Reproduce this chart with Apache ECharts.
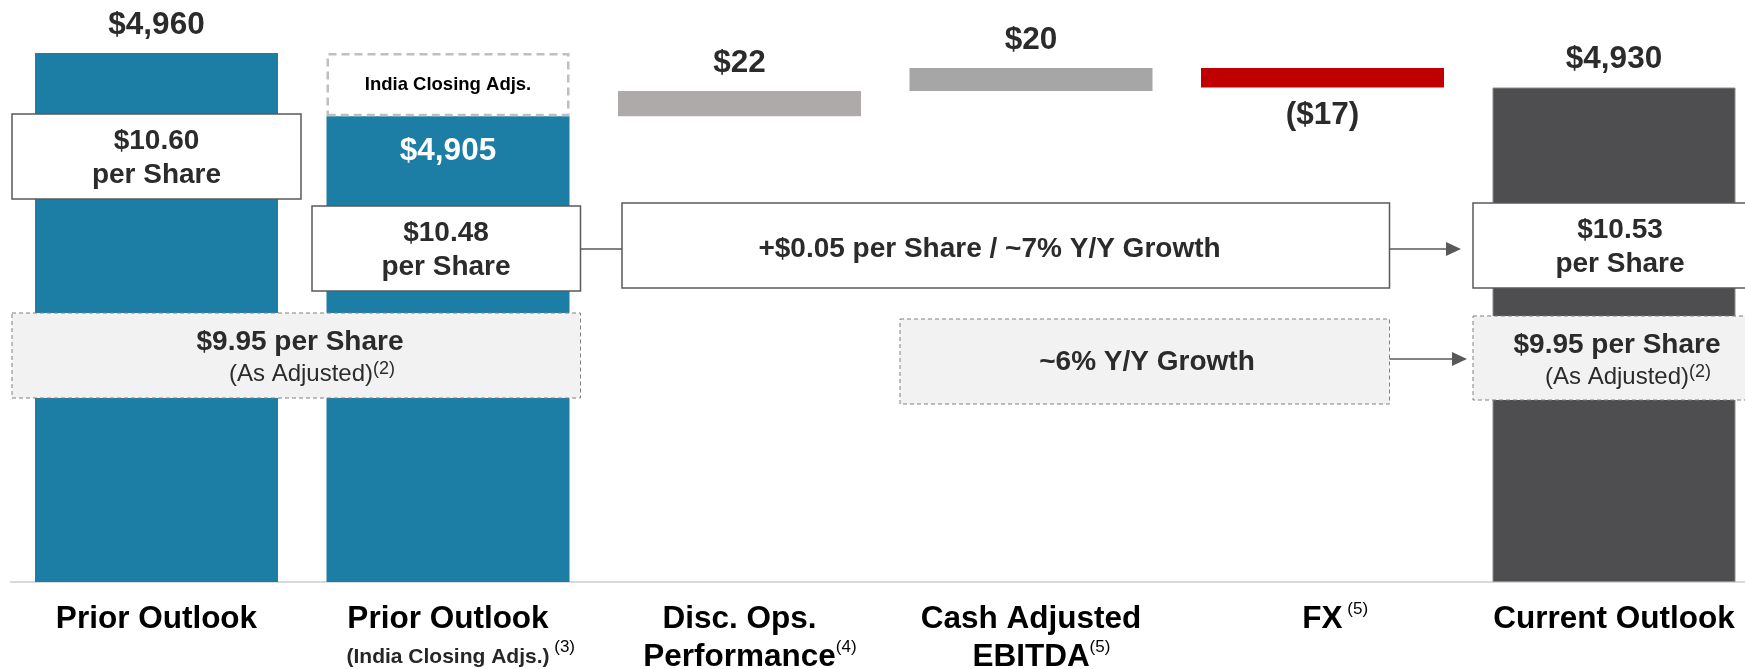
<!DOCTYPE html>
<html>
<head>
<meta charset="utf-8">
<title>Outlook bridge</title>
<script src="https://cdn.jsdelivr.net/npm/echarts@6/dist/echarts.min.js"></script>
<style>
  html, body { margin: 0; padding: 0; background: #fff; }
  #container { width: 1745px; height: 669px; }
</style>
</head>
<body>
<div id="container"></div>
<script>
// bridge steps (x axis)
var categories = ['Prior Outlook', 'Prior Outlook', 'Disc. Ops.\nPerformance', 'Cash Adjusted\nEBITDA', 'FX', 'Current Outlook'];
var subLabels = ['', '(India Closing Adjs.)', '', '', '', ''];
var footnotes = ['', ' (3)', '(4)', '(5)', ' (5)', ''];
// outlook totals ($M)
var outlookTotals = [4960, 4905, null, null, null, 4930];
// bridge movements ($M)
var bridgeChanges = [null, null, 22, 20, -17, null];
// per share call-outs
var perShare = ['$10.60', '$10.48', '$10.53'];
var adjustedPerShare = '$9.95';
var growthNotes = ['+$0.05 per Share / ~7% Y/Y Growth', '~6% Y/Y Growth'];
var yMin = 4500, yMax = 5000;

var font = 'Liberation Sans, Arial, Helvetica, sans-serif';
var stepColors = ['#1c7da5', '#1c7da5', '#aeaaaa', '#a6a6a6', '#c00000', '#4e4e50'];

function money(v) {
  var s = '$' + Math.abs(v).toLocaleString('en-US');
  return v < 0 ? '(' + s + ')' : s;
}

var baseData = [], totalData = [], stepData = [], adjData = [];
var running = outlookTotals[1];
for (var i = 0; i < categories.length; i++) {
  if (outlookTotals[i] != null) {
    baseData.push(yMin);
    var lbl = { show: true, position: 'top', distance: 12, formatter: money(outlookTotals[i]) };
    if (i == 1) { lbl = { show: true, position: 'insideTop', distance: 19, color: '#fff', formatter: money(outlookTotals[i]) }; }
    var st = { color: stepColors[i] };
    if (i == 5) { st.borderColor = '#8a8a8a'; st.borderWidth = 1; }
    totalData.push({ value: outlookTotals[i] - yMin, itemStyle: st, label: lbl });
    stepData.push(null);
  } else {
    var c = bridgeChanges[i];
    if (c >= 0) { baseData.push(running); running += c; }
    else { running += c; baseData.push(running); }
    totalData.push(null);
    stepData.push({
      value: Math.abs(c),
      itemStyle: { color: stepColors[i] },
      label: { show: true, position: c < 0 ? 'bottom' : 'top', distance: 12, formatter: money(c) }
    });
  }
  // India closing adjustment sits between the two prior outlook totals
  adjData.push(i == 1 ? outlookTotals[0] - outlookTotals[1] : null);
}

var dom = document.getElementById('container');
var myChart = echarts.init(dom);

function box(x, y, w, h, dashed) {
  return {
    type: 'rect', z: 100, shape: { x: x, y: y, width: w, height: h },
    style: dashed ? { fill: '#f2f2f2', stroke: '#808080', lineWidth: 1, lineDash: [4, 3] }
                  : { fill: '#fff', stroke: '#595959', lineWidth: 1.5 }
  };
}
function txt(x, y, text, size, weight) {
  return {
    type: 'text', z: 101, x: x, y: y,
    style: {
      text: text, fill: '#2b2b2b', fontSize: size || 28, fontWeight: weight || 'bold', fontFamily: font,
      lineHeight: 34, align: 'center', verticalAlign: 'middle', textAlign: 'center', textVerticalAlign: 'middle',
      rich: {
        n: { fontSize: 24, fontWeight: 'normal', fontFamily: font, color: '#333', lineHeight: 28 },
        s: { fontSize: 18, fontWeight: 'normal', fontFamily: font, color: '#333', lineHeight: 14, verticalAlign: 'top' }
      }
    }
  };
}
function line(x1, y1, x2, y2) {
  return { type: 'line', z: 100, shape: { x1: x1, y1: y1, x2: x2, y2: y2 }, style: { stroke: '#595959', lineWidth: 1.5 } };
}
function head(x, y) {
  return { type: 'polygon', z: 100, shape: { points: [[x - 15, y - 7], [x, y], [x - 15, y + 7]] }, style: { fill: '#595959' } };
}

var option = {
  backgroundColor: '#fff',
  animation: false,
  grid: { left: 10.75, top: 7, width: 1749, height: 575, containLabel: false, outerBoundsMode: 'none' },
  xAxis: {
    type: 'category',
    data: categories,
    axisTick: { show: false },
    axisLine: { lineStyle: { color: '#d9d9d9', width: 2 } },
    axisLabel: {
      interval: 0,
      margin: 18.5,
      formatter: function (value, idx) {
        var out = value.split('\n').map(function (l) { return '{m|' + l + '}'; });
        if (subLabels[idx]) out.push('{sub|' + subLabels[idx] + '}');
        var fn = footnotes[idx];
        if (fn) {
          var last = out.length - 1;
          out[last] = '{hid|' + fn + '}' + out[last] + '{sup|' + fn + '}';
        }
        return out.join('\n');
      },
      rich: {
        m: { fontSize: 31.5, fontWeight: 'bold', fontFamily: font, color: '#000', lineHeight: 38 },
        sub: { fontSize: 21, fontWeight: 'bold', fontFamily: font, color: '#262626', lineHeight: 38 },
        sup: { fontSize: 17, fontFamily: font, color: '#000', lineHeight: 8, verticalAlign: 'top' },
        hid: { fontSize: 17, fontFamily: font, color: 'transparent', lineHeight: 8, verticalAlign: 'top' }
      }
    }
  },
  yAxis: { type: 'value', show: false, min: yMin, max: yMax, splitLine: { show: false } },
  series: [
    { name: 'base', type: 'bar', stack: 'bridge', barWidth: 243, silent: true,
      itemStyle: { color: 'transparent' }, data: baseData },
    { name: 'Outlook', type: 'bar', stack: 'bridge', barWidth: 243,
      label: { fontSize: 31.5, fontWeight: 'bold', fontFamily: font, color: '#2b2b2b' }, data: totalData },
    { name: 'Bridge', type: 'bar', stack: 'bridge', barWidth: 243,
      label: { fontSize: 31.5, fontWeight: 'bold', fontFamily: font, color: '#2b2b2b' }, data: stepData },
    { name: 'India Closing Adjs.', type: 'bar', stack: 'bridge', barWidth: 243,
      itemStyle: { color: '#fff', borderColor: '#bfbfbf', borderWidth: 2.5, borderType: [8, 5] },
      label: { show: true, position: 'inside', formatter: 'India Closing Adjs.', fontSize: 18.5, fontWeight: 'bold', fontFamily: font, color: '#000' },
      data: adjData }
  ],
  graphic: {
    elements: [
      box(12, 114, 289, 85), txt(156.5, 158, perShare[0] + '\nper Share'),
      box(312, 206, 268.5, 85), txt(446, 250, perShare[1] + '\nper Share'),
      line(580.5, 249, 622, 249),
      box(622, 203, 767.5, 85), txt(989.5, 249, growthNotes[0]),
      line(1389.5, 249, 1447, 249), head(1461, 249),
      box(1473, 203, 330, 85), txt(1620, 247, perShare[2] + '\nper Share'),
      box(12, 313, 568.5, 85, true), txt(300, 342, adjustedPerShare + ' per Share'),
      txt(312, 374, '{n|(As Adjusted)}{s|(2)}'),
      box(900, 319, 489.5, 85, true), txt(1147, 362, growthNotes[1]),
      line(1389.5, 359, 1453, 359), head(1467, 359),
      box(1473, 316, 330, 84, true), txt(1617, 345, adjustedPerShare + ' per Share'),
      txt(1628, 377, '{n|(As Adjusted)}{s|(2)}')
    ]
  }
};
myChart.setOption(option);
</script>
</body>
</html>
